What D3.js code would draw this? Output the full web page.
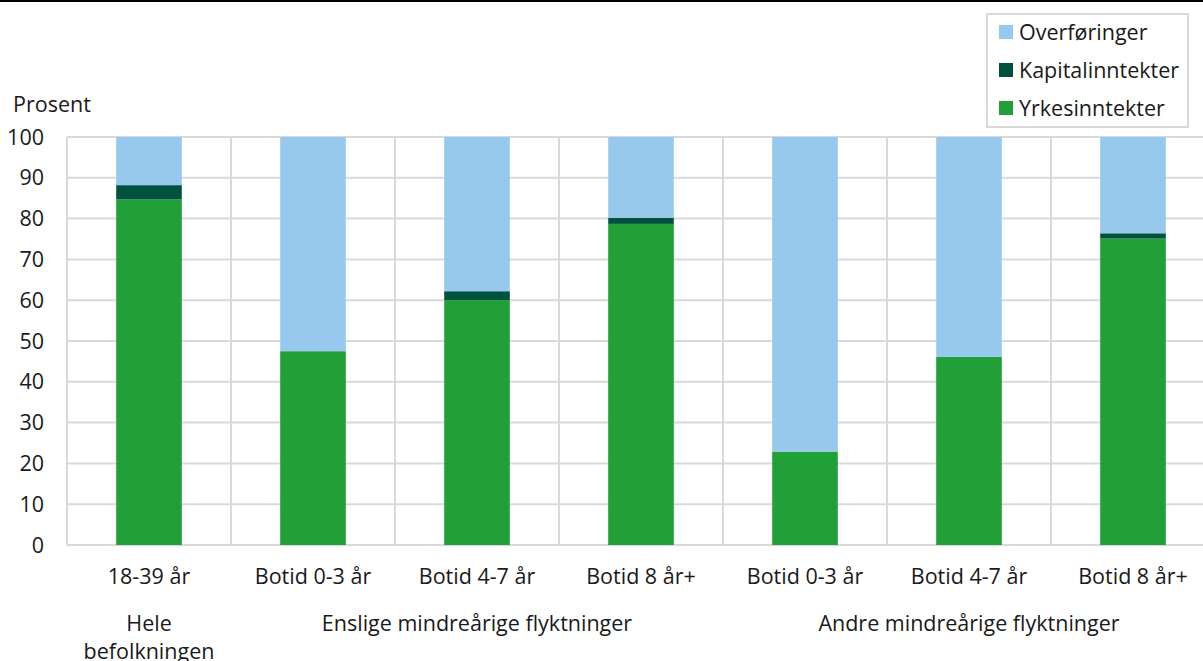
<!DOCTYPE html>
<html>
<head>
<meta charset="utf-8">
<script src="https://cdn.jsdelivr.net/npm/d3@7"></script>
<style>
  body { margin: 0; background: #fff; }
  svg { display: block; font-family: 'Open Sans', sans-serif; }
</style>
</head>
<body>
<div id="chart"></div>
<script>
var categories = ['18-39 år', 'Botid 0-3 år', 'Botid 4-7 år', 'Botid 8 år+', 'Botid 0-3 år', 'Botid 4-7 år', 'Botid 8 år+']
var yrkes = [84.7, 47.5, 60.0, 78.7, 22.9, 46.1, 75.1]
var kapital = [3.5, 0, 2.2, 1.5, 0, 0, 1.3]
var overf = [11.8, 52.5, 37.8, 19.8, 77.1, 53.9, 23.6]
var groups = [
  { name: ['Hele', 'befolkningen'], from: 0, to: 0 },
  { name: ['Enslige mindreårige flyktninger'], from: 1, to: 3 },
  { name: ['Andre mindreårige flyktninger'], from: 4, to: 6 }
]
var seriesNames = ['Yrkesinntekter', 'Kapitalinntekter', 'Overføringer']
var colors = ['#21a038', '#00523f', '#97c8ee']
var yTicks = [0, 10, 20, 30, 40, 50, 60, 70, 80, 90, 100]

var width = 1203
var height = 661
var margin = { top: 137, left: 67, right: -12, bottom: 116 }
var w = width - margin.left - margin.right
var h = height - margin.top - margin.bottom
var fs = 21.5

var svg = d3.select('#chart')
  .append('svg')
  .attr('width', width)
  .attr('height', height)

// top rule
svg.append('rect').attr('x', 0).attr('y', 0).attr('width', width).attr('height', 2).attr('fill', '#000')

var g = svg.append('g')
  .attr('transform', 'translate(' + margin.left + ',' + margin.top + ')')

var xBand = d3.scaleBand().domain(d3.range(categories.length)).range([0, w]).paddingInner(0).paddingOuter(0)
var y = d3.scaleLinear().domain([0, 100]).range([h, 0])

var rows = categories.map(function(c, i) {
  return { i: i, Yrkesinntekter: yrkes[i], Kapitalinntekter: kapital[i], 'Overføringer': overf[i] }
})
var stack = d3.stack().keys(seriesNames)
var stacked = stack(rows)

// horizontal gridlines
g.selectAll('.hgrid')
  .data(yTicks)
  .enter()
  .append('line')
  .attr('x1', 0)
  .attr('x2', w)
  .attr('y1', d => y(d))
  .attr('y2', d => y(d))
  .attr('stroke', '#d9d9d9')
  .attr('stroke-width', 2)

// vertical gridlines at category boundaries
g.selectAll('.vgrid')
  .data(d3.range(categories.length + 1))
  .enter()
  .append('line')
  .attr('x1', d => d * xBand.step())
  .attr('x2', d => d * xBand.step())
  .attr('y1', y(100))
  .attr('y2', y(0))
  .attr('stroke', '#d9d9d9')
  .attr('stroke-width', 2)

var barW = xBand.step() * 0.4

g.selectAll('.layer')
  .data(stacked)
  .enter()
  .append('g')
  .attr('fill', (d, i) => colors[i])
  .selectAll('rect')
  .data(d => d)
  .enter()
  .append('rect')
  .attr('x', d => xBand(d.data.i) + xBand.bandwidth() / 2 - barW / 2)
  .attr('width', barW)
  .attr('y', d => y(d[1]))
  .attr('height', d => y(d[0]) - y(d[1]))

// y axis labels
g.selectAll('.ytick')
  .data(yTicks)
  .enter()
  .append('text')
  .attr('x', -23)
  .attr('y', d => y(d))
  .attr('dy', '0.35em')
  .attr('text-anchor', 'end')
  .attr('font-size', fs)
  .attr('fill', '#1a1a1a')
  .text(d => d)

svg.append('text')
  .attr('x', 13)
  .attr('y', 112)
  .attr('font-size', fs)
  .attr('fill', '#1a1a1a')
  .text('Prosent')

// category labels
g.selectAll('.xtick')
  .data(categories)
  .enter()
  .append('text')
  .attr('x', (d, i) => xBand(i) + xBand.bandwidth() / 2)
  .attr('y', h + 39)
  .attr('text-anchor', 'middle')
  .attr('font-size', fs)
  .attr('fill', '#1a1a1a')
  .text(d => d)

// group labels
groups.forEach(function(gr) {
  var cx = (xBand(gr.from) + xBand(gr.to) + xBand.bandwidth()) / 2
  gr.name.forEach(function(line, k) {
    g.append('text')
      .attr('x', cx)
      .attr('y', h + 86 + k * 28)
      .attr('text-anchor', 'middle')
      .attr('font-size', fs)
      .attr('fill', '#1a1a1a')
      .text(line)
  })
})

// legend
var legend = svg.append('g').attr('transform', 'translate(987,14)')
legend.append('rect')
  .attr('x', 0).attr('y', 0).attr('width', 201).attr('height', 113)
  .attr('fill', '#fff').attr('stroke', '#d9d9d9').attr('stroke-width', 2)
var legendOrder = [2, 1, 0]
legend.selectAll('.item')
  .data(legendOrder)
  .enter()
  .append('g')
  .attr('transform', (d, k) => 'translate(12,' + (18 + k * 38) + ')')
  .each(function(d) {
    var item = d3.select(this)
    item.append('rect').attr('x', 0).attr('y', -7).attr('width', 14).attr('height', 14).attr('fill', colors[d])
    item.append('text')
      .attr('x', 20)
      .attr('y', 0)
      .attr('dy', '0.35em')
      .attr('font-size', fs)
      .attr('fill', '#1a1a1a')
      .text(seriesNames[d])
  })
</script>
</body>
</html>
